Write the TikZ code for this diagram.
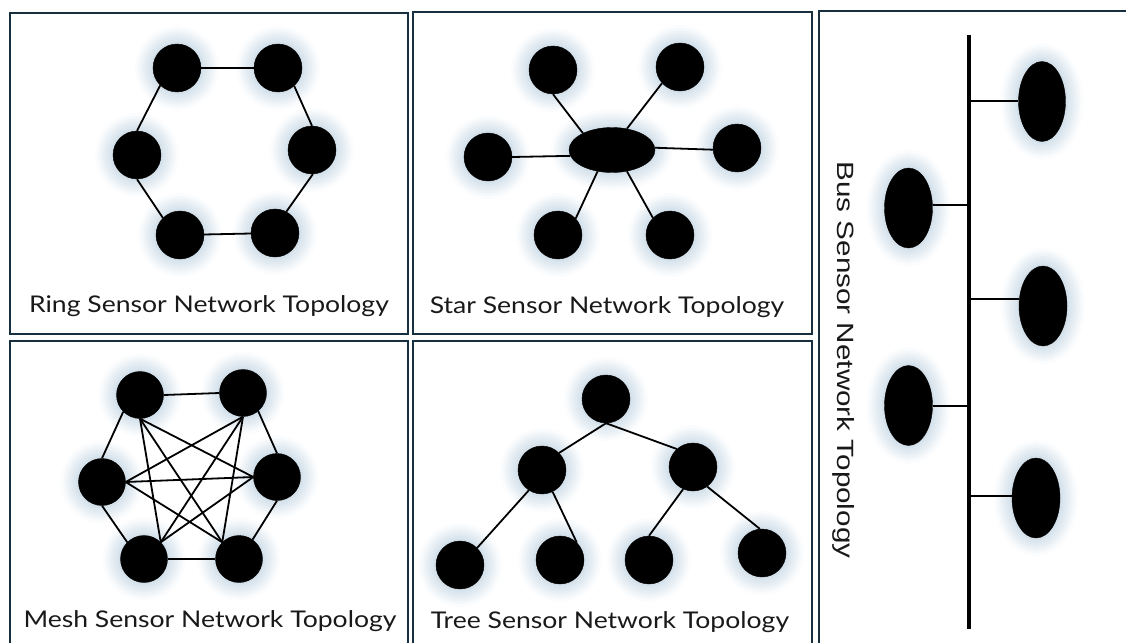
\documentclass[tikz,border=0pt]{standalone}
\usepackage{fontspec}
\setmainfont{Lato}[FakeStretch=1.155]
\newfontfamily\busfont[FakeStretch=1.26]{Liberation Sans}
\usetikzlibrary{shapes.geometric}

\definecolor{framec}{RGB}{22,48,64}
\definecolor{glowc}{RGB}{135,172,200}
\definecolor{labelc}{RGB}{25,25,25}

\begin{document}
\begin{tikzpicture}[x=1pt,y=-1pt,
  panel/.style={draw=framec, line width=2.2pt},
  glow/.style={
    preaction={draw=glowc, draw opacity=0.04, line width=36pt},
    preaction={draw=glowc, draw opacity=0.05, line width=30pt},
    preaction={draw=glowc, draw opacity=0.06, line width=25pt},
    preaction={draw=glowc, draw opacity=0.06, line width=20pt},
    preaction={draw=glowc, draw opacity=0.07, line width=15pt},
    preaction={draw=glowc, draw opacity=0.07, line width=10pt},
    preaction={draw=glowc, draw opacity=0.08, line width=5pt}},
  dot/.style={circle, fill=black, draw=black, minimum size=48pt, inner sep=0pt, glow},
  hub/.style={ellipse, fill=black, draw=black, minimum width=86pt, minimum height=45pt, inner sep=0pt, glow},
  tall/.style={ellipse, fill=black, draw=black, minimum width=48pt, minimum height=80pt, inner sep=0pt, glow},
  link/.style={line width=1.8pt},
  paneltitle/.style={font=\fontsize{23}{26}\selectfont, text=labelc, anchor=base, inner sep=0pt}
]
\useasboundingbox (0,0) rectangle (1126,642);
\clip (0,0) rectangle (1126,642);

% panel frames
\draw[panel] (10,13) rectangle (408,334);
\draw[panel] (413,12) rectangle (812,334);
\draw[panel] (10,341) rectangle (408,670);
\draw[panel] (413,341) rectangle (812,670);
\draw[panel] (819,11) rectangle (1150,670);

% ---------- ring ----------
\node[dot] (r1) at (177,68) {};
\node[dot] (r2) at (278,68) {};
\node[dot] (r3) at (312,150) {};
\node[dot] (r4) at (275,233) {};
\node[dot] (r5) at (180,235) {};
\node[dot] (r6) at (137,155) {};
\draw[link] (r1) -- (r2);
\draw[link] (r2.-48) -- (r3.90);
\draw[link] (r3.-88) -- (r4.62);
\draw[link] (r4) -- (r5);
\draw[link] (r5.135) -- (r6.-90);
\draw[link] (r6.90) -- (r1.226);
\node[paneltitle] (ringlabel) at (209,312.7) {Ring Sensor Network Topology};

% ---------- star ----------
\node[hub] (s0) at (612,150) {};
\node[dot] (s1) at (553,70) {};
\node[dot] (s2) at (680,67) {};
\node[dot] (s3) at (488,157) {};
\node[dot] (s4) at (737,148) {};
\node[dot] (s5) at (558,235) {};
\node[dot] (s6) at (670,235) {};
\draw[link] (s1.-90) -- (s0.150);
\draw[link] (s2.222) -- (s0.55);
\draw[link] (s3.0) -- (s0.188);
\draw[link] (s4.184) -- (s0.3);
\draw[link] (s5.43) -- (s0.236);
\draw[link] (s6.135) -- (s0.305);
\node[paneltitle] (starlabel) at (607,313) {Star Sensor Network Topology};

% ---------- mesh ----------
\node[dot, minimum size=47pt] (m1) at (140,395) {};
\node[dot, minimum size=47pt] (m2) at (243,393) {};
\node[dot, minimum size=47pt] (m3) at (102,482) {};
\node[dot, minimum size=47pt] (m4) at (277,477) {};
\node[dot, minimum size=47pt] (m5) at (144,559) {};
\node[dot, minimum size=47pt] (m6) at (239,559) {};
\draw[link] (m1.east) -- (m2.west);
\draw[link] (m1.225) -- (m3.north);
\draw[link] (m1.south) -- (m5.45);
\draw[link] (m1.south) -- (m6.135);
\draw[link] (m1.south) -- (m4.west);
\draw[link] (m2.south) -- (m3.east);
\draw[link] (m2.south) -- (m5.45);
\draw[link] (m2.south) -- (m6.135);
\draw[link] (m2.-50) -- (m4.north);
\draw[link] (m3.east) -- (m4.west);
\draw[link] (m3.south) -- (m5.135);
\draw[link] (m3.east) -- (m6.135);
\draw[link] (m4.west) -- (m5.45);
\draw[link] (m4.south) -- (m6.55);
\draw[link] (m5.east) -- (m6.west);
\node[paneltitle] (meshlabel) at (210,627) {Mesh Sensor Network Topology};

% ---------- tree ----------
\node[dot] (t0) at (606,399) {};
\node[dot] (t1) at (542,470) {};
\node[dot] (t2) at (693,467) {};
\node[dot] (t3) at (460,565) {};
\node[dot] (t4) at (560,560) {};
\node[dot] (t5) at (649,560) {};
\node[dot] (t6) at (762,553) {};
\draw[link] (t0.south) -- (t1.45);
\draw[link] (t0.south) -- (t2.132);
\draw[link] (t1.237) -- (t3.45);
\draw[link] (t1.-64) -- (t4.46);
\draw[link] (t2.246) -- (t5.90);
\draw[link] (t2.-54) -- (t6.95);
\node[paneltitle] (treelabel) at (610,628) {Tree Sensor Network Topology};

% ---------- bus ----------
\coordinate (bustop) at (969,35);
\coordinate (busbot) at (969,629);
\draw[line width=4pt] (bustop) -- (busbot);
\node[tall, minimum width=47pt] (b1) at (1042,101.5) {};
\node[tall] (b2) at (908.5,208) {};
\node[tall] (b3) at (1043,306) {};
\node[tall] (b4) at (908.5,405.5) {};
\node[tall] (b5) at (1036,498) {};
\draw[line width=2pt] (b1.west |- 0,101) -- (bustop |- 0,101);
\draw[line width=2pt] (b2.east |- 0,205) -- (bustop |- 0,205);
\draw[line width=2pt] (b3.west |- 0,299) -- (bustop |- 0,299);
\draw[line width=2pt] (b4.east) -- (bustop |- b4.east);
\draw[line width=2pt] (b5.west |- 0,496) -- (bustop |- 0,496);
\node[rotate=-90, font=\busfont\fontsize{23.5}{26}\selectfont, text=labelc, inner sep=0pt] (buslabel) at (844,360) {Bus Sensor Network Topology};
\end{tikzpicture}
\end{document}
